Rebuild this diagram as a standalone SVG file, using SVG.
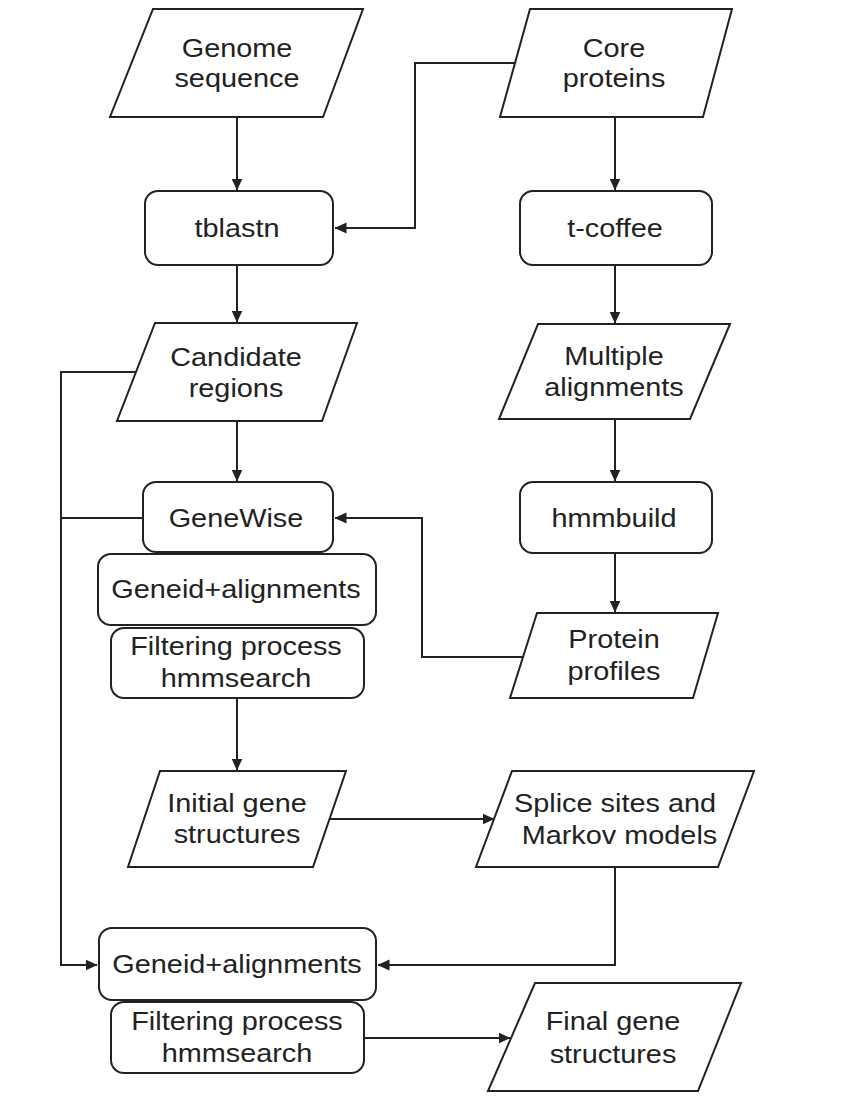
<svg xmlns="http://www.w3.org/2000/svg" width="853" height="1108" viewBox="0 0 853 1108">
  <style>
    .shape { fill: #ffffff; stroke: #222222; stroke-width: 2; }
    .wire { fill: none; stroke: #222222; stroke-width: 2; }
    .label { font-family: "Liberation Sans", Arial, sans-serif; font-size: 26px; fill: #222222; text-anchor: middle; }
  </style>
  <defs>
    <marker id="arrow" viewBox="0 0 12 12" refX="11.5" refY="6" markerWidth="12" markerHeight="12" markerUnits="userSpaceOnUse" orient="auto">
      <path d="M0,0.5 L12,6 L0,11.5 z" fill="#222222"/>
    </marker>
  </defs>
  <rect width="853" height="1108" fill="#ffffff"/>

  <!-- connectors -->
  <g id="connectors">
    <path class="wire" d="M237,117 V190" marker-end="url(#arrow)"/>
    <path class="wire" d="M515,63 H415 V228 H335" marker-end="url(#arrow)"/>
    <path class="wire" d="M615,117 V190" marker-end="url(#arrow)"/>
    <path class="wire" d="M237,265 V322" marker-end="url(#arrow)"/>
    <path class="wire" d="M615,265 V323" marker-end="url(#arrow)"/>
    <path class="wire" d="M237,421 V481" marker-end="url(#arrow)"/>
    <path class="wire" d="M136,372 H61 V965 H97" marker-end="url(#arrow)"/>
    <path class="wire" d="M143,518 H61"/>
    <path class="wire" d="M615,419 V481" marker-end="url(#arrow)"/>
    <path class="wire" d="M615,553 V612" marker-end="url(#arrow)"/>
    <path class="wire" d="M523,657 H422 V518 H335" marker-end="url(#arrow)"/>
    <path class="wire" d="M237,698 V770" marker-end="url(#arrow)"/>
    <path class="wire" d="M330,819 H494" marker-end="url(#arrow)"/>
    <path class="wire" d="M615,867 V965 H378" marker-end="url(#arrow)"/>
    <path class="wire" d="M364,1038 H510" marker-end="url(#arrow)"/>
  </g>

  <!-- left column -->
  <g id="genome-sequence">
    <polygon class="shape" points="153,9 363,9 323,117 110,117"/>
    <text class="label" transform="translate(237,57) scale(1.11,1)"><tspan x="0" y="0">Genome</tspan><tspan x="0" y="30">sequence</tspan></text>
  </g>
  <g id="tblastn">
    <rect class="shape" x="145" y="191" width="188" height="74" rx="13"/>
    <text class="label" transform="translate(237,237) scale(1.11,1)">tblastn</text>
  </g>
  <g id="candidate-regions">
    <polygon class="shape" points="155,323 357,323 322,421 117,421"/>
    <text class="label" transform="translate(236,366) scale(1.11,1)"><tspan x="0" y="0">Candidate</tspan><tspan x="0" y="31">regions</tspan></text>
  </g>
  <g id="genewise">
    <rect class="shape" x="143" y="482" width="190" height="70" rx="13"/>
    <text class="label" transform="translate(236,527) scale(1.11,1)">GeneWise</text>
  </g>
  <g id="geneid-alignments-1">
    <rect class="shape" x="98" y="554" width="278" height="71" rx="13"/>
    <text class="label" transform="translate(236,598) scale(1.11,1)">Geneid+alignments</text>
  </g>
  <g id="filtering-1">
    <rect class="shape" x="111" y="628" width="253" height="70" rx="13"/>
    <text class="label" transform="translate(236,655) scale(1.11,1)"><tspan x="0" y="0">Filtering process</tspan><tspan x="0" y="32">hmmsearch</tspan></text>
  </g>
  <g id="initial-gene-structures">
    <polygon class="shape" points="160,771 346,771 313,867 128,867"/>
    <text class="label" transform="translate(237,812) scale(1.11,1)"><tspan x="0" y="0">Initial gene</tspan><tspan x="0" y="31">structures</tspan></text>
  </g>
  <g id="geneid-alignments-2">
    <rect class="shape" x="99" y="928" width="277" height="72" rx="13"/>
    <text class="label" transform="translate(237,973) scale(1.11,1)">Geneid+alignments</text>
  </g>
  <g id="filtering-2">
    <rect class="shape" x="111" y="1002" width="253" height="71" rx="13"/>
    <text class="label" transform="translate(237,1030) scale(1.11,1)"><tspan x="0" y="0">Filtering process</tspan><tspan x="0" y="32">hmmsearch</tspan></text>
  </g>

  <!-- right column -->
  <g id="core-proteins">
    <polygon class="shape" points="530,9 732,9 703,117 500,117"/>
    <text class="label" transform="translate(614,57) scale(1.11,1)"><tspan x="0" y="0">Core</tspan><tspan x="0" y="30">proteins</tspan></text>
  </g>
  <g id="t-coffee">
    <rect class="shape" x="520" y="191" width="192" height="74" rx="13"/>
    <text class="label" transform="translate(615,237) scale(1.11,1)">t-coffee</text>
  </g>
  <g id="multiple-alignments">
    <polygon class="shape" points="538,324 730,324 690,419 499,419"/>
    <text class="label" transform="translate(614,365) scale(1.11,1)"><tspan x="0" y="0">Multiple</tspan><tspan x="0" y="31">alignments</tspan></text>
  </g>
  <g id="hmmbuild">
    <rect class="shape" x="520" y="482" width="192" height="71" rx="13"/>
    <text class="label" transform="translate(614,527) scale(1.11,1)">hmmbuild</text>
  </g>
  <g id="protein-profiles">
    <polygon class="shape" points="537,613 718,613 693,698 510,698"/>
    <text class="label" transform="translate(614,648) scale(1.11,1)"><tspan x="0" y="0">Protein</tspan><tspan x="0" y="32">profiles</tspan></text>
  </g>
  <g id="splice-markov">
    <polygon class="shape" points="512,771 754,771 718,867 476,867"/>
    <text class="label" transform="translate(615,812) scale(1.11,1)"><tspan x="0" y="0">Splice sites and</tspan><tspan x="4" y="32">Markov models</tspan></text>
  </g>
  <g id="final-gene-structures">
    <polygon class="shape" points="535,983 741,983 698,1091 488,1091"/>
    <text class="label" transform="translate(613,1030) scale(1.11,1)"><tspan x="0" y="0">Final gene</tspan><tspan x="0" y="33">structures</tspan></text>
  </g>
</svg>
